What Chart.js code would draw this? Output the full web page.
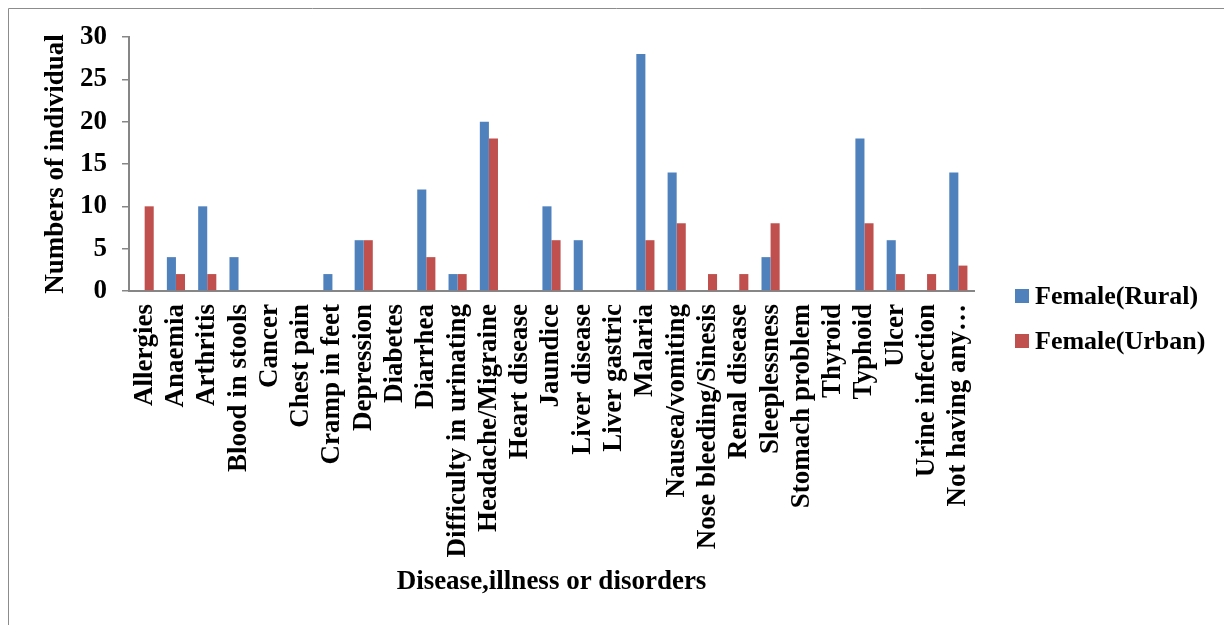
<!DOCTYPE html>
<html>
<head>
<meta charset="utf-8">
<script src="https://cdn.jsdelivr.net/npm/chart.js@4/dist/chart.umd.min.js"></script>
<style>
  html, body { margin: 0; padding: 0; background: #fff; }
  #wrap { position: relative; width: 1224px; height: 625px; }
</style>
</head>
<body>
<div id="wrap"><canvas id="c" width="1224" height="625"></canvas></div>
<script>
// Categories shown along the x axis
const categories = [
  'Allergies', 'Anaemia', 'Arthritis', 'Blood in stools', 'Cancer', 'Chest pain',
  'Cramp in feet', 'Depression', 'Diabetes', 'Diarrhea', 'Difficulty in urinating',
  'Headache/Migraine', 'Heart disease', 'Jaundice', 'Liver disease', 'Liver gastric',
  'Malaria', 'Nausea/vomiting', 'Nose bleeding/Sinesis', 'Renal disease', 'Sleeplessness',
  'Stomach problem', 'Thyroid', 'Typhoid', 'Ulcer', 'Urine infection', 'Not having any…'
];

// Counts per category
const femaleRural = [0, 4, 10, 4, 0, 0, 2, 6, 0, 12, 2, 20, 0, 10, 6, 0, 28, 14, 0, 0, 4, 0, 0, 18, 6, 0, 14];
const femaleUrban = [10, 2, 2, 0, 0, 0, 0, 6, 0, 4, 2, 18, 0, 6, 0, 0, 6, 8, 2, 2, 8, 0, 0, 8, 2, 2, 3];

// Y axis tick values
const yTicks = [0, 5, 10, 15, 20, 25, 30];

const FONT = "'Liberation Serif', 'Times New Roman', serif";
const AXIS_GREY = '#868686';

// Outer frame and series key drawn on the canvas
const framePlugin = {
  id: 'frame',
  beforeDraw(chart) {
    const ctx = chart.ctx;
    ctx.save();
    ctx.strokeStyle = '#8c8c8c';
    ctx.lineWidth = 1;
    ctx.beginPath();
    ctx.moveTo(8.5, 700);
    ctx.lineTo(8.5, 8.5);
    ctx.lineTo(1230, 8.5);
    ctx.stroke();
    ctx.restore();
  },
  afterDraw(chart) {
    const ctx = chart.ctx;
    ctx.save();
    ctx.font = "bold 26px " + FONT;
    ctx.textBaseline = 'middle';
    ctx.fillStyle = '#000';
    const rows = [296, 341];
    chart.data.datasets.forEach((ds, i) => {
      ctx.fillStyle = ds.backgroundColor;
      ctx.fillRect(1015, rows[i] - 7, 14, 14);
      ctx.fillStyle = '#000';
      ctx.fillText(ds.label, 1035, rows[i] + 1);
    });
    ctx.restore();
  }
};

new Chart(document.getElementById('c'), {
  type: 'bar',
  data: {
    labels: categories,
    datasets: [
      { label: 'Female(Rural)', data: femaleRural, backgroundColor: '#4F81BD', borderWidth: 0 },
      { label: 'Female(Urban)', data: femaleUrban, backgroundColor: '#C0504D', borderWidth: 0 }
    ]
  },
  options: {
    responsive: false,
    animation: false,
    layout: { padding: { left: 40, top: 37, right: 250, bottom: 27 } },
    datasets: { bar: { categoryPercentage: 0.58, barPercentage: 1.0 } },
    plugins: {
      legend: { display: false },
      tooltip: { enabled: false }
    },
    scales: {
      x: {
        grid: { display: false, drawTicks: false },
        border: { display: true, color: AXIS_GREY, width: 2 },
        ticks: {
          autoSkip: false,
          minRotation: 90,
          maxRotation: 90,
          padding: 13,
          color: '#000',
          font: { family: FONT, size: 27, weight: 'bold' }
        },
        title: {
          display: true,
          text: 'Disease,illness or disorders',
          color: '#000',
          padding: 0,
          font: { family: FONT, size: 27, weight: 'bold' }
        },
        afterFit(scale) { scale.height = 307; }
      },
      y: {
        min: 0,
        max: 30,
        afterBuildTicks(scale) { scale.ticks = yTicks.map(v => ({ value: v })); },
        grid: { drawOnChartArea: false, drawTicks: true, tickLength: 7, color: AXIS_GREY, lineWidth: 1.5 },
        border: { display: true, color: AXIS_GREY, width: 2 },
        ticks: {
          padding: 15,
          color: '#000',
          font: { family: FONT, size: 27, weight: 'bold' }
        },
        title: {
          display: true,
          text: 'Numbers of individual',
          color: '#000',
          padding: 0,
          font: { family: FONT, size: 27, weight: 'bold' }
        },
        afterFit(scale) { scale.width = 89; }
      }
    }
  },
  plugins: [framePlugin]
});
</script>
</body>
</html>
